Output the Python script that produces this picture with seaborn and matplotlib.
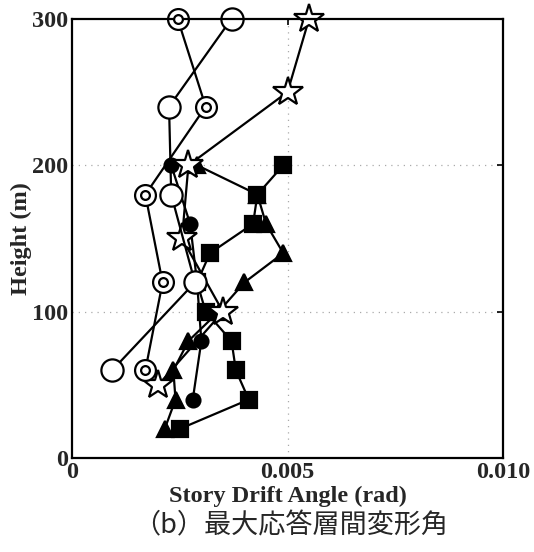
import matplotlib
matplotlib.use("Agg")
import matplotlib.pyplot as plt
import seaborn as sns
import pandas as pd

# Maximum story drift angle per height for each analysis case
open_circle_h = [300, 240, 180, 120, 60]
open_circle_x = [0.0037, 0.00225, 0.0023, 0.00285, 0.00093]

ring_h = [300, 240, 180, 120, 60]
ring_x = [0.00245, 0.0031, 0.0017, 0.0021, 0.0017]

star_h = [300, 250, 200, 150, 100, 50]
star_x = [0.0055, 0.0050, 0.0027, 0.00255, 0.0035, 0.0020]

square_h = [200, 180, 160, 140, 120, 100, 80, 60, 40, 20]
square_x = [0.0049, 0.0043, 0.0042, 0.0032, 0.0029, 0.0031, 0.0037, 0.0038, 0.0041, 0.0025]

triangle_h = [200, 180, 160, 140, 120, 100, 80, 60, 40, 20]
triangle_x = [0.0029, 0.0043, 0.0045, 0.0049, 0.0040, 0.0034, 0.0027, 0.00235, 0.0024, 0.00215]

dot_h = [200, 160, 120, 80, 40]
dot_x = [0.0023, 0.00274, 0.0029, 0.0030, 0.0028]

x_ticks = [0, 0.005, 0.010]
x_tick_labels = ["0", "0.005", "0.010"]
y_ticks = [0, 100, 200, 300]
y_tick_labels = ["0", "100", "200", "300"]

sns.set_theme(style="white")
plt.rcParams["font.family"] = ["Liberation Serif", "DejaVu Serif"]

fig = plt.figure(figsize=(5.34, 5.52), dpi=100)
ax = fig.add_axes([0.135, 0.170, 0.807, 0.796])

series = [
    (square_h, square_x, dict(marker="s", markersize=11, markerfacecolor="black")),
    (triangle_h, triangle_x, dict(marker="^", markersize=12, markerfacecolor="black")),
    (dot_h, dot_x, dict(marker="o", markersize=10, markerfacecolor="black")),
    (star_h, star_x, dict(marker="*", markersize=22, markerfacecolor="white")),
    (ring_h, ring_x, dict(marker="o", markersize=15, markerfacecolor="white")),
    (open_circle_h, open_circle_x, dict(marker="o", markersize=16, markerfacecolor="white")),
]

for h, x, style in series:
    df = pd.DataFrame({"angle": x, "height": h})
    sns.lineplot(data=df, x="angle", y="height", sort=False, estimator=None,
                 errorbar=None, ax=ax, color="black", linewidth=1.6,
                 markeredgecolor="black", markeredgewidth=1.6, clip_on=False,
                 **style)

# inner ring of the double-circle markers
ring_df = pd.DataFrame({"angle": ring_x, "height": ring_h})
sns.scatterplot(data=ring_df, x="angle", y="height", ax=ax, marker="o", s=40,
                facecolor="white", edgecolor="black", linewidth=1.6,
                clip_on=False, zorder=5)

ax.set_xlim(0, 0.010)
ax.set_ylim(0, 300)
ax.set_xticks(x_ticks)
ax.set_xticklabels(x_tick_labels)
ax.set_yticks(y_ticks)
ax.set_yticklabels(y_tick_labels)

for lvl in [100, 200]:
    ax.axhline(lvl, color="#aaaaaa", linestyle=(0, (1, 4)), linewidth=0.9, zorder=0)
ax.axvline(0.005, color="#aaaaaa", linestyle=(0, (1, 4)), linewidth=0.9, zorder=0)

for side in ax.spines.values():
    side.set_color("black")
    side.set_linewidth(1.6)

ax.tick_params(axis="both", direction="in", length=4, width=1.2, color="black",
               top=True, right=True, labelsize=17.5, pad=3)
for lab in ax.get_xticklabels() + ax.get_yticklabels():
    lab.set_fontweight("bold")

ax.set_xlabel("Story Drift Angle (rad)", fontsize=17.5, fontweight="bold", labelpad=2)
ax.set_ylabel("Height (m)", fontsize=17.5, fontweight="bold", labelpad=0)

fig.text(0.545, 0.048, "（b）最大応答層間変形角", ha="center", va="center",
         fontsize=19.5, family=["Noto Sans CJK JP", "DejaVu Sans"])

fig.savefig("out.png", dpi=100, facecolor="white")
